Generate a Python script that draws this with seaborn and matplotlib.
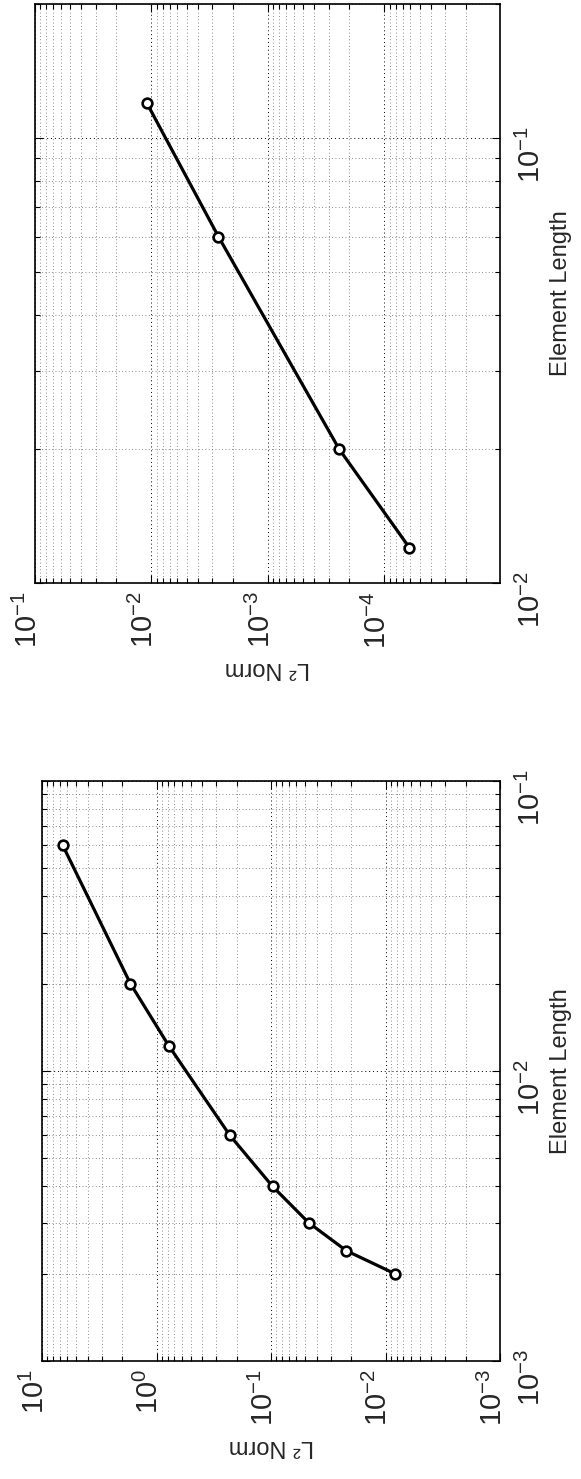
import numpy as np
import matplotlib
matplotlib.use('Agg')
import matplotlib.pyplot as plt
import matplotlib.transforms as mtransforms
import seaborn as sns
from matplotlib.ticker import LogLocator, NullFormatter

# coarse run (upper panel in the rotated page)
h_coarse = [0.12, 0.06, 0.02, 0.012]
l2_coarse = [0.0110, 0.00266, 2.45e-4, 6.1e-5]

# fine run (lower panel in the rotated page)
h_fine = [0.06, 0.02, 0.0122, 0.006, 0.004, 0.003, 0.0024, 0.002]
l2_fine = [6.6, 1.69, 0.78, 0.229, 0.097, 0.047, 0.022, 0.0083]

x_label = 'L² Norm'
y_label = 'Element Length'

sns.set_style('white')
plt.rcParams['font.family'] = ['Liberation Sans', 'DejaVu Sans']
plt.rcParams['mathtext.fontset'] = 'custom'
plt.rcParams['mathtext.rm'] = 'Liberation Sans'
plt.rcParams['mathtext.it'] = 'Liberation Sans:italic'
plt.rcParams['mathtext.bf'] = 'Liberation Sans:bold'

fig = plt.figure(figsize=(5.81, 14.79), dpi=100)

panels = [
    dict(h=h_coarse, l2=l2_coarse, rect=[0.0602, 0.6058, 0.8003, 0.3915],
         xlim=(1e-1, 1.02e-5), ylim=(1e-2, 2e-1)),
    dict(h=h_fine, l2=l2_fine, rect=[0.0723, 0.0798, 0.7883, 0.3922],
         xlim=(1e1, 1e-3), ylim=(1e-3, 1e-1)),
]

# shift x tick labels so the "10" sits on the tick, exponent to the left
shift = mtransforms.ScaledTranslation(-5 / 72, 0, fig.dpi_scale_trans)

for p in panels:
    ax = fig.add_axes(p['rect'])
    sns.lineplot(x=p['l2'], y=p['h'], sort=False, estimator=None, ax=ax,
                 color='k', linewidth=2.3, marker='o', markersize=7,
                 markeredgewidth=1.9, markerfacecolor='white',
                 markeredgecolor='k')
    ax.set_xscale('log')
    ax.set_yscale('log')
    ax.set_xlim(*p['xlim'])
    ax.set_ylim(*p['ylim'])

    for axis in (ax.xaxis, ax.yaxis):
        axis.set_major_locator(LogLocator(base=10, numticks=20))
        axis.set_minor_locator(LogLocator(base=10, subs=np.arange(2, 10), numticks=20))
        axis.set_minor_formatter(NullFormatter())

    # page is turned: element length runs up, labels on the right
    ax.yaxis.tick_right()
    ax.yaxis.set_label_position('right')
    ax.tick_params(which='both', direction='in', top=True, bottom=True,
                   left=True, right=True, labelleft=False, labelright=True,
                   labelbottom=True, labeltop=False, width=0.8, color='k')
    ax.tick_params(which='major', length=6, labelsize=21, labelrotation=90)
    ax.tick_params(axis='x', which='major', pad=6)
    ax.tick_params(axis='y', which='major', pad=12)
    ax.tick_params(which='minor', length=3.5)

    ax.grid(True, which='major', linestyle=(0, (1, 3)), color='k', linewidth=0.7)
    ax.grid(True, which='minor', linestyle=(0, (1, 3)), color='0.4', linewidth=0.6)

    for s in ax.spines.values():
        s.set_color('k')
        s.set_linewidth(1.2)

    for lab in ax.get_xticklabels():
        lab.set_transform(lab.get_transform() + shift)

    ax.set_xlabel(x_label, fontsize=17, rotation=180, labelpad=6)
    ax.set_ylabel(y_label, fontsize=17, rotation=90, labelpad=3)

fig.savefig('out.png', dpi=100)
